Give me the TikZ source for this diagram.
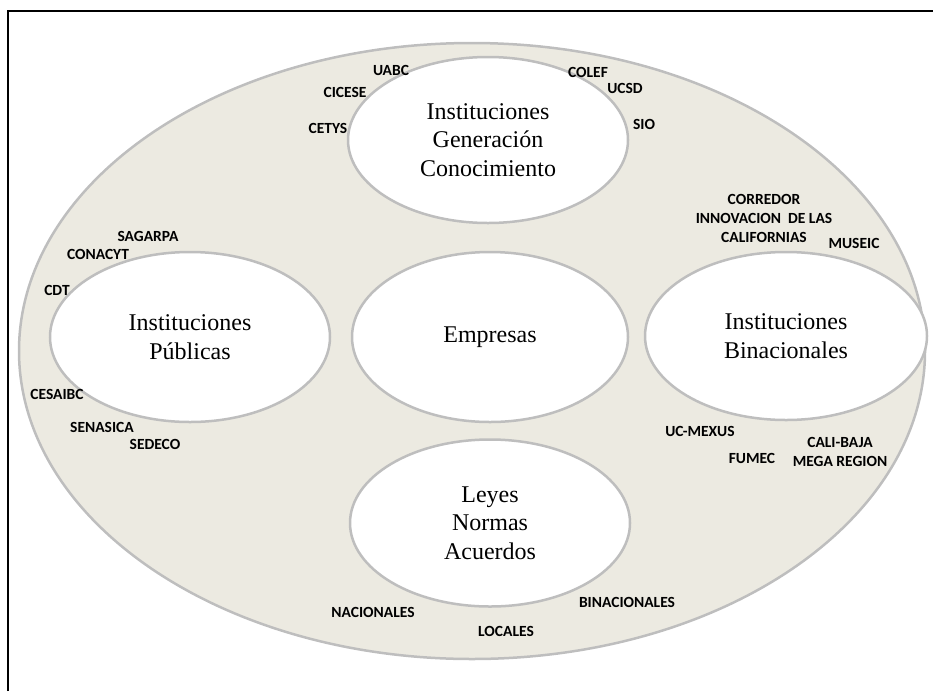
\documentclass[tikz,border=0pt]{standalone}
\usepackage{fontspec}
\setmainfont{Liberation Serif}
\newfontfamily\memberfont{Carlito}
\usetikzlibrary{shapes.geometric}
\definecolor{ringfill}{HTML}{ECEAE1}
\definecolor{ringline}{HTML}{BEBEBE}
\tikzset{
  actor/.style={ellipse,draw=ringline,line width=2.5pt,fill=white,inner sep=0pt,align=center,
    font=\fontsize{24}{28.5}\selectfont},
  member/.style={font=\memberfont\bfseries\fontsize{15.5}{19}\selectfont,text=black,
    inner sep=0pt,align=center}
}
\begin{document}
\begin{tikzpicture}[x=1pt,y=-1pt]
\useasboundingbox (0,0) rectangle (933,691);
\draw[line width=2pt] (8,691) -- (8,11) -- (933,11);
% outer region
\node[ellipse,draw=ringline,line width=2.5pt,fill=ringfill,inner sep=0pt,
  minimum width=906pt,minimum height=616pt] (region) at (472,351) {};
% the five actors
\node[actor,minimum width=280pt,minimum height=166pt] (conocimiento) at (488,140) {Instituciones\\Generación\\Conocimiento};
\node[actor,minimum width=280pt,minimum height=170pt] (publicas) at (190,337) {Instituciones\\Públicas};
\node[actor,minimum width=276pt,minimum height=170pt] (empresas) at (490,337) {Empresas};
\node[actor,minimum width=282pt,minimum height=168pt] (binacionales) at (786,336) {Instituciones\\Binacionales};
\node[actor,minimum width=280pt,minimum height=167pt] (leyes) at (490,523) {Leyes\\Normas\\Acuerdos};
% knowledge institutions
\node[member] (uabc) at (391,70) {UABC};
\node[member] (cicese) at (345,92) {CICESE};
\node[member] (cetys) at (328,128) {CETYS};
\node[member] (colef) at (588,72) {COLEF};
\node[member] (ucsd) at (625,88) {UCSD};
\node[member] (sio) at (644,124) {SIO};
% public institutions
\node[member] (sagarpa) at (148,236) {SAGARPA};
\node[member] (conacyt) at (98,254) {CONACYT};
\node[member] (cdt) at (57,290) {CDT};
\node[member] (cesaibc) at (57,394) {CESAIBC};
\node[member] (senasica) at (102,427) {SENASICA};
\node[member] (sedeco) at (155,444) {SEDECO};
% binational institutions
\node[member] (corredor) at (764,218) {CORREDOR\\INNOVACION\ \ DE LAS\\CALIFORNIAS};
\node[member] (museic) at (854,243) {MUSEIC};
\node[member] (ucmexus) at (700,431) {UC-MEXUS};
\node[member] (fumec) at (752,458) {FUMEC};
\node[member] (calibaja) at (840,452) {CALI-BAJA\\MEGA REGION};
% laws
\node[member] (nacionales) at (373,612) {NACIONALES};
\node[member] (locales) at (506,631) {LOCALES};
\node[member] (binac) at (627,602) {BINACIONALES};
\end{tikzpicture}
\end{document}
